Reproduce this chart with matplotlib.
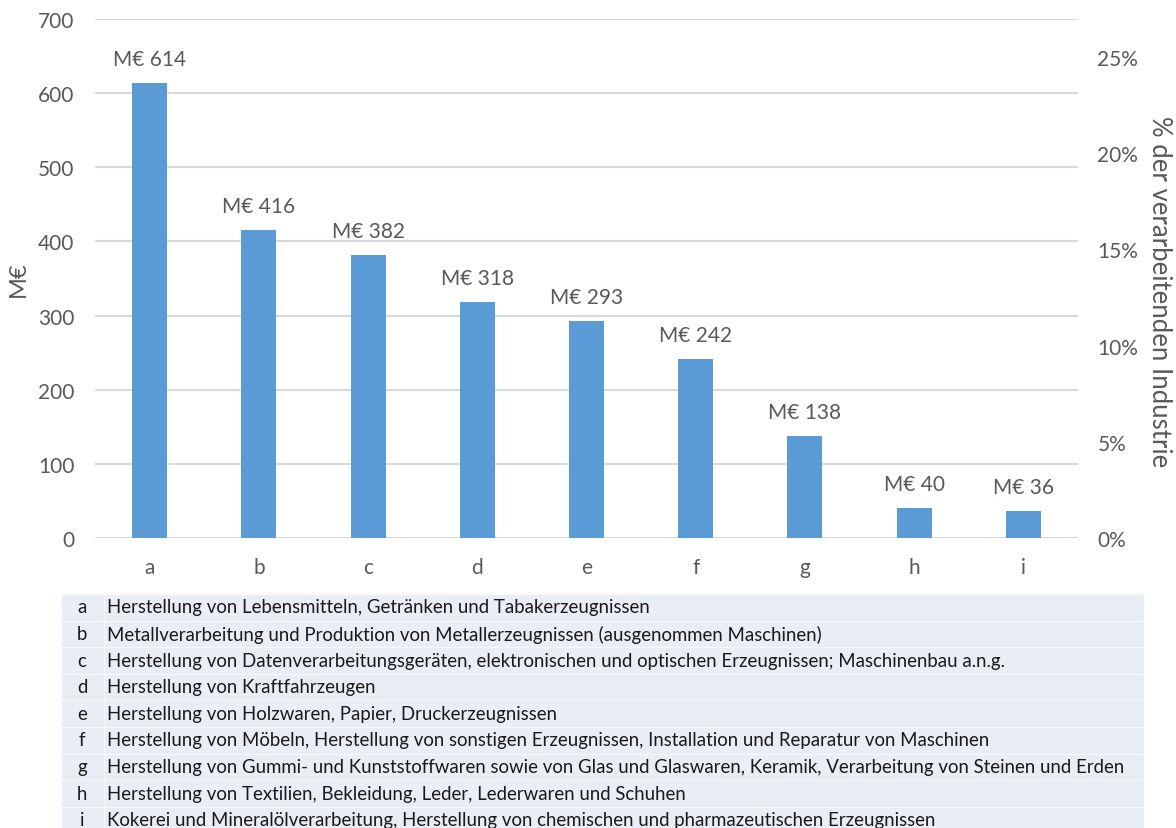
import matplotlib.pyplot as plt
from matplotlib.patches import Rectangle
from matplotlib.ticker import FuncFormatter

# Sektoren der verarbeitenden Industrie
codes = ['a', 'b', 'c', 'd', 'e', 'f', 'g', 'h', 'i']
values = [614, 416, 382, 318, 293, 242, 138, 40, 36]
sectors = [
    'Herstellung von Lebensmitteln, Getränken und Tabakerzeugnissen',
    'Metallverarbeitung und Produktion von Metallerzeugnissen (ausgenommen Maschinen)',
    'Herstellung von Datenverarbeitungsgeräten, elektronischen und optischen Erzeugnissen; Maschinenbau a.n.g.',
    'Herstellung von Kraftfahrzeugen',
    'Herstellung von Holzwaren, Papier, Druckerzeugnissen',
    'Herstellung von Möbeln, Herstellung von sonstigen Erzeugnissen, Installation und Reparatur von Maschinen',
    'Herstellung von Gummi- und Kunststoffwaren sowie von Glas und Glaswaren, Keramik, Verarbeitung von Steinen und Erden',
    'Herstellung von Textilien, Bekleidung, Leder, Lederwaren und Schuhen',
    'Kokerei und Mineralölverarbeitung, Herstellung von chemischen und pharmazeutischen Erzeugnissen',
]
# Gesamtwert (M€) der verarbeitenden Industrie fuer die rechte Achse
total = 2595
left_ticks = [0, 100, 200, 300, 400, 500, 600, 700]
right_ticks = [0, 5, 10, 15, 20, 25]

plt.rcParams['font.family'] = ['Lato', 'DejaVu Sans']
txt = '#595959'
bar_col = '#5B9BD5'
grid_col = '#D9D9D9'

W, H = 1176, 829
fig = plt.figure(figsize=(W / 100, H / 100), dpi=100)
ax = fig.add_axes([95 / W, 1 - 539 / H, (1078 - 95) / W, (539 - 20) / H])

x = range(len(codes))
bars = ax.bar(x, values, width=0.32, color=bar_col, zorder=3)
for xi, v in zip(x, values):
    ax.annotate(f'M€ {v}', (xi, v), xytext=(0, 10), textcoords='offset points',
                ha='center', va='bottom', fontsize=15, color=txt)

ax.set_xlim(-0.5, len(codes) - 0.5)
ax.set_ylim(0, 700)
ax.set_yticks(left_ticks)
ax.set_xticks(list(x))
ax.set_xticklabels(codes)
ax.grid(axis='y', color=grid_col, linewidth=1.5, zorder=0)
for s in ax.spines.values():
    s.set_visible(False)
ax.tick_params(length=0, labelsize=15, colors=txt)
ax.tick_params(axis='y', pad=15)
ax.tick_params(axis='x', pad=14)

# Anteil an der verarbeitenden Industrie
ax2 = ax.twinx()
ax2.set_ylim(0, 700 / total * 100)
ax2.set_yticks(right_ticks)
ax2.yaxis.set_major_formatter(FuncFormatter(lambda v, p: f'{v:.0f}%'))
for s in ax2.spines.values():
    s.set_visible(False)
ax2.tick_params(length=0, labelsize=15, colors=txt, pad=14)

# Achsentitel
fig.text(18 / W, 1 - 279 / H, 'M€', rotation=90, ha='center', va='center',
         fontsize=17, color=txt)
fig.text(1160 / W, 1 - 292 / H, '% der verarbeitenden Industrie', rotation=270,
         ha='center', va='center', fontsize=18.5, color=txt)

# Legende als Tabelle unter dem Diagramm
row_h = 26.6
top = 596
for i, (c, name) in enumerate(zip(codes, sectors)):
    y0 = top + i * row_h
    fig.patches.append(Rectangle((62 / W, 1 - (y0 + row_h - 2) / H), 41 / W, (row_h - 2) / H,
                                 transform=fig.transFigure, color='#E9EDF5', zorder=0))
    fig.patches.append(Rectangle((105 / W, 1 - (y0 + row_h - 2) / H), 1038 / W, (row_h - 2) / H,
                                 transform=fig.transFigure, color='#E9EDF5', zorder=0))
    yc = 1 - (y0 + 12) / H
    fig.text(82 / W, yc, c, ha='center', va='center', fontsize=13.4, color='#1a1a1a')
    fig.text(107 / W, yc, name, ha='left', va='center', fontsize=13.4, color='#1a1a1a')

fig.savefig('out.png', dpi=100)
